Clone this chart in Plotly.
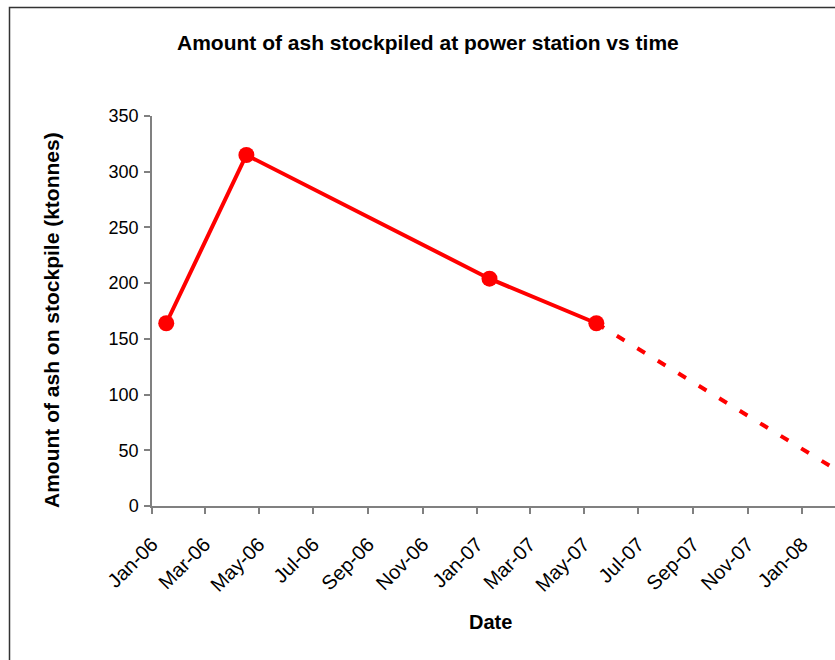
import plotly.graph_objects as go

# Data
dates = ["2006-01-17", "2006-04-17", "2007-01-15", "2007-05-15"]
ash_ktonnes = [164, 315, 204, 164]

forecast_dates = ["2007-05-15", "2008-04-15"]
forecast_ktonnes = [164, 0]

title_text = "Amount of ash stockpiled at power station vs time"
x_title = "Date"
y_title = "Amount of ash on stockpile (ktonnes)"

W, H = 835, 660
L, R, T, B = 152, 0, 116, 154
pw, ph = W - L - R, H - T - B

def px_x(p):
    return (p - L) / pw

def px_y(p):
    return (H - B - p) / ph

FONT = "Liberation Sans, Arial, sans-serif"
RED = "#FF0000"
AX = "#808080"

fig = go.Figure()
fig.add_trace(go.Scatter(
    x=forecast_dates, y=forecast_ktonnes, mode="lines",
    line=dict(color=RED, width=4, dash="9px,15px"),
    showlegend=False, hoverinfo="skip"))
fig.add_trace(go.Scatter(
    x=dates, y=ash_ktonnes, mode="lines+markers",
    line=dict(color=RED, width=4),
    marker=dict(color=RED, size=16),
    showlegend=False))

fig.update_layout(
    width=W, height=H,
    margin=dict(l=L, r=R, t=T, b=B, pad=0),
    paper_bgcolor="white", plot_bgcolor="white",
    font=dict(family=FONT, color="black"),
    showlegend=False,
    xaxis=dict(
        type="date",
        range=["2006-01-01", "2008-02-07"],
        tick0="2006-01-01", dtick="M2", tickformat="%b-%y",
        tickangle=-45,
        tickfont=dict(size=20, family=FONT, color="black"),
        showgrid=False, zeroline=False,
        showline=True, linecolor=AX, linewidth=1.5,
        ticks="outside", ticklen=6, tickcolor=AX, tickwidth=1.5,
        ticklabelstandoff=11,
    ),
    yaxis=dict(
        range=[0, 350], tick0=0, dtick=50,
        tickfont=dict(size=18, family=FONT, color="black"),
        showgrid=False, zeroline=False,
        showline=True, linecolor=AX, linewidth=1.5,
        ticks="outside", ticklen=6, tickcolor=AX, tickwidth=1.5,
        ticklabelstandoff=2,
    ),
    annotations=[
        dict(text="<b>" + title_text + "</b>", xref="paper", yref="paper",
             x=px_x(428), y=px_y(42), showarrow=False,
             xanchor="center", yanchor="middle",
             font=dict(size=21, family=FONT, color="black")),
        dict(text="<b>" + x_title + "</b>", xref="paper", yref="paper",
             x=px_x(490), y=px_y(622), showarrow=False,
             xanchor="center", yanchor="middle",
             font=dict(size=20, family=FONT, color="black")),
        dict(text="<b>" + y_title + "</b>", xref="paper", yref="paper",
             x=px_x(51), y=px_y(320), showarrow=False, textangle=-90,
             xanchor="center", yanchor="middle",
             font=dict(size=21, family=FONT, color="black")),
    ],
    shapes=[
        dict(type="rect", xref="paper", yref="paper",
             x0=px_x(9.5), x1=px_x(900), y0=px_y(700), y1=px_y(7.5),
             line=dict(color="#333333", width=1.5), fillcolor="rgba(0,0,0,0)",
             layer="below"),
    ],
)

fig.write_html("out.html", config={"displayModeBar": False},
               post_script="document.body.style.margin='0';")
